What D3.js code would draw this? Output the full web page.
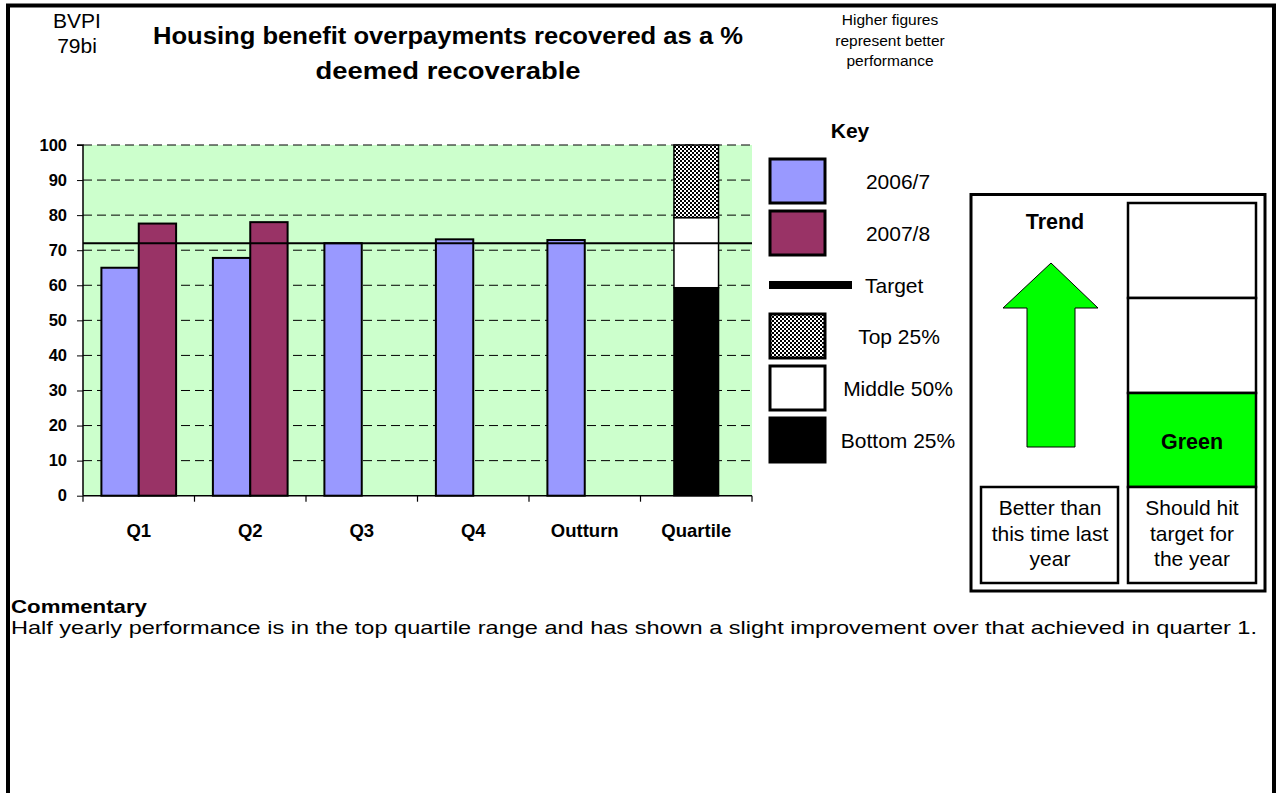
<!DOCTYPE html>
<html><head><meta charset="utf-8">
<script src="https://cdn.jsdelivr.net/npm/d3@7/dist/d3.min.js"></script>
<style>
body{margin:0;background:#fff;}
svg{display:block;font-family:"Liberation Sans",Arial,sans-serif;}
</style></head>
<body>
<svg id="c" width="1279" height="793"></svg>
<script>
// ---- data ----
const categories = ["Q1","Q2","Q3","Q4","Outturn","Quartile"];
const seriesNames = ["2006/7","2007/8"];
const values2006 = [65, 67.8, 72, 73.1, 72.9, null];
const values2007 = [77.6, 78, null, null, null, null];
const target = 72;
const quartileNames = ["Bottom 25%","Middle 50%","Top 25%"];
const quartileBands = [59.3, 20, 20.7];
const yTicks = [0,10,20,30,40,50,60,70,80,90,100];
const titleLines = ["Housing benefit overpayments recovered as a %","deemed recoverable"];
const codeLines = ["BVPI","79bi"];
const noteLines = ["Higher figures","represent better","performance"];
const keyLabels = ["2006/7","2007/8","Target","Top 25%","Middle 50%","Bottom 25%"];
const trendLabel = ["Better than","this time last","year"];
const targetLabel = ["Should hit","target for","the year"];
const statusText = "Green";
const commentaryTitle = "Commentary";
const commentary = "Half yearly performance is in the top quartile range and has shown a slight improvement over that achieved in quarter 1.";

const colors = {"2006/7":"#9999FF","2007/8":"#993366"};
const svg = d3.select("#c");

function txt(x, y, s, o){
  const t = svg.append("text").attr("x",x).attr("y",y).text(s)
    .attr("font-size",o.size||16).attr("font-weight",o.weight||"normal")
    .attr("text-anchor",o.anchor||"start").attr("fill","#000");
  if(o.len) t.attr("textLength",o.len).attr("lengthAdjust","spacingAndGlyphs");
  return t;
}

// pattern
const defs = svg.append("defs");
const pat = defs.append("pattern").attr("id","checks").attr("patternUnits","userSpaceOnUse")
  .attr("width",4).attr("height",4);
pat.append("rect").attr("width",4).attr("height",4).attr("fill","#fff");
pat.append("rect").attr("width",2).attr("height",2).attr("fill","#000");
pat.append("rect").attr("x",2).attr("y",2).attr("width",2).attr("height",2).attr("fill","#000");

// outer border
svg.append("path").attr("d","M8,793 L8,5.5 L1274,5.5 L1274,793")
  .attr("fill","none").attr("stroke","#000").attr("stroke-width",4);

// header text
codeLines.forEach((t,i)=>txt(77,27.5+i*25,t,{size:21,anchor:"middle"}));
const titleLens = [590,265];
titleLines.forEach((t,i)=>txt(448,43.5+i*35,t,{size:23,weight:"bold",anchor:"middle",len:titleLens[i]}));
noteLines.forEach((t,i)=>txt(890,25+i*20.5,t,{size:15.5,anchor:"middle"}));

// chart
const x0 = 83, x1 = 752, yTop = 145, yBot = 495.7;
const x = d3.scaleBand().domain(categories).range([x0,x1]).padding(0);
const y = d3.scaleLinear().domain([0,100]).range([yBot,yTop]);
const bw = x.bandwidth();
const gw = bw*0.67;
const xi = d3.scaleBand().domain(seriesNames).range([(bw-gw)/2,(bw+gw)/2]).padding(0);

const g = svg.append("g");
g.append("rect").attr("x",x0).attr("y",yTop).attr("width",x1-x0).attr("height",yBot-yTop).attr("fill","#CCFFCC");
g.selectAll("line.grid").data(yTicks.filter(d=>d>0)).join("line")
  .attr("x1",x0).attr("x2",x1).attr("y1",d=>y(d)).attr("y2",d=>y(d))
  .attr("stroke","#000").attr("stroke-width",1).attr("stroke-dasharray","9,5");

const barData = [];
categories.forEach((c,i)=>{
  if(values2006[i]!=null) barData.push({c,s:"2006/7",v:values2006[i]});
  if(values2007[i]!=null) barData.push({c,s:"2007/8",v:values2007[i]});
});
g.selectAll("rect.bar").data(barData).join("rect")
  .attr("x",d=>x(d.c)+xi(d.s)).attr("width",xi.bandwidth())
  .attr("y",d=>y(d.v)).attr("height",d=>y(0)-y(d.v))
  .attr("fill",d=>colors[d.s]).attr("stroke","#000").attr("stroke-width",2);

const qw = bw*0.40;
let acc = 0;
const qFills = ["#000","#fff","url(#checks)"];
const qStack = quartileBands.map((v,i)=>{const o={a:acc,b:acc+v,f:qFills[i]}; acc+=v; return o;});
g.selectAll("rect.q").data(qStack).join("rect")
  .attr("x",x("Quartile")+(bw-qw)/2).attr("width",qw)
  .attr("y",d=>y(d.b)).attr("height",d=>y(d.a)-y(d.b))
  .attr("fill",d=>d.f).attr("stroke","#000").attr("stroke-width",1.5);

g.append("line").attr("x1",x0).attr("x2",x1).attr("y1",y(target)).attr("y2",y(target))
  .attr("stroke","#000").attr("stroke-width",2);

// axes
const yAxis = d3.axisLeft(y).tickValues(yTicks).tickSize(6).tickPadding(10);
const ya = svg.append("g").attr("transform",`translate(${x0},0)`).call(yAxis);
ya.select(".domain").attr("stroke","#000").attr("stroke-width",1.5).attr("d",`M-6,${yTop}H0V${yBot}`);
ya.selectAll(".tick line").attr("stroke","#000");
ya.selectAll("text").attr("font-size",16.5).attr("font-weight","bold").attr("fill","#000")
  .attr("font-family","'Liberation Sans',Arial,sans-serif");

const xAxis = d3.axisBottom(x).tickSize(0).tickPadding(28);
const xa = svg.append("g").attr("transform",`translate(0,${yBot})`).call(xAxis);
xa.select(".domain").attr("stroke","#000").attr("stroke-width",1.5).attr("d",`M${x0},0H${x1}`);
xa.selectAll("text").attr("font-size",18.5).attr("font-weight","bold").attr("fill","#000")
  .attr("font-family","'Liberation Sans',Arial,sans-serif");
const bounds = categories.map(c=>x(c)).concat([x1]);
svg.selectAll("line.ct").data(bounds).join("line")
  .attr("x1",d=>d).attr("x2",d=>d).attr("y1",yBot).attr("y2",yBot+6)
  .attr("stroke","#000").attr("stroke-width",1.2);

// key
txt(850,137.5,"Key",{size:21,weight:"bold",anchor:"middle"});
const keyItems = [
  {t:keyLabels[0],type:"box",f:colors["2006/7"],y:159,tx:898,anchor:"middle"},
  {t:keyLabels[1],type:"box",f:colors["2007/8"],y:211,tx:898,anchor:"middle"},
  {t:keyLabels[2],type:"line",y:281,tx:865,anchor:"start"},
  {t:keyLabels[3],type:"box",f:"url(#checks)",y:314,tx:899,anchor:"middle"},
  {t:keyLabels[4],type:"box",f:"#fff",y:366,tx:898,anchor:"middle"},
  {t:keyLabels[5],type:"box",f:"#000",y:418,tx:898,anchor:"middle"}
];
keyItems.forEach(k=>{
  if(k.type==="box"){
    svg.append("rect").attr("x",770).attr("y",k.y).attr("width",55).attr("height",44)
      .attr("fill",k.f).attr("stroke","#000").attr("stroke-width",3);
    txt(k.tx,k.y+29.5,k.t,{size:21,anchor:k.anchor});
  } else {
    svg.append("rect").attr("x",769).attr("y",k.y).attr("width",83).attr("height",8).attr("fill","#000");
    txt(k.tx,k.y+11.5,k.t,{size:21,anchor:k.anchor});
  }
});

// right panel
svg.append("rect").attr("x",971).attr("y",194.5).attr("width",294).attr("height",396.5)
  .attr("fill","none").attr("stroke","#000").attr("stroke-width",3);
txt(1055,228.5,"Trend",{size:21.5,weight:"bold",anchor:"middle"});
svg.append("path").attr("d","M1051,263 L1098,308 L1075,308 L1075,447 L1027,447 L1027,308 L1003,308 Z")
  .attr("fill","#00FF00").attr("stroke","#000").attr("stroke-width",1);
const colX = 1128, colW = 128;
const statusBoxes = [[203,298,"#fff"],[298,393,"#fff"],[393,487,"#00FF00"]];
statusBoxes.forEach(b=>svg.append("rect").attr("x",colX).attr("y",b[0]).attr("width",colW).attr("height",b[1]-b[0])
  .attr("fill",b[2]).attr("stroke","#000").attr("stroke-width",2.5));
txt(1192,449,statusText,{size:21.5,weight:"bold",anchor:"middle"});
svg.append("rect").attr("x",colX).attr("y",487).attr("width",colW).attr("height",96)
  .attr("fill","#fff").attr("stroke","#000").attr("stroke-width",2.5);
svg.append("rect").attr("x",981).attr("y",487).attr("width",137).attr("height",96)
  .attr("fill","#fff").attr("stroke","#000").attr("stroke-width",2.5);
trendLabel.forEach((t,i)=>txt(1050,515+i*25.5,t,{size:21,anchor:"middle"}));
targetLabel.forEach((t,i)=>txt(1192,515+i*25.5,t,{size:21,anchor:"middle"}));

// commentary
txt(11,613,commentaryTitle,{size:19,weight:"bold",len:136});
txt(11,634,commentary,{size:19,len:1246});
</script>
</body></html>
